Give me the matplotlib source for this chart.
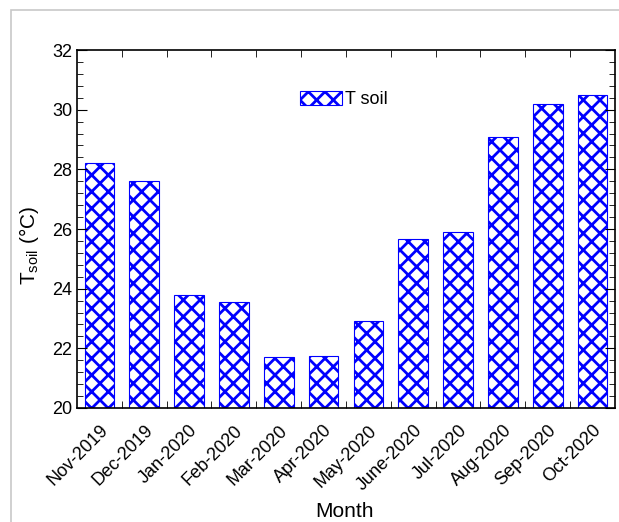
import matplotlib.pyplot as plt
import matplotlib.patches as mpatches
from matplotlib.ticker import MultipleLocator, FixedLocator

plt.rcParams['font.family'] = ['Liberation Sans', 'DejaVu Sans']
plt.rcParams['hatch.linewidth'] = 2.0
plt.rcParams['hatch.color'] = '#0000ff'

months = ['Nov-2019', 'Dec-2019', 'Jan-2020', 'Feb-2020', 'Mar-2020', 'Apr-2020',
          'May-2020', 'June-2020', 'Jul-2020', 'Aug-2020', 'Sep-2020', 'Oct-2020']
t_soil = [28.2, 27.6, 23.8, 23.55, 21.7, 21.75, 22.9, 25.67, 25.9, 29.1, 30.2, 30.5]

fig = plt.figure(figsize=(6.19, 5.22), dpi=100)
ax = fig.add_axes([0.1244, 0.2184, 0.8691, 0.6858])

# grey frame around the plot
fig.patches.append(mpatches.Rectangle((11 / 619, -0.1), 2, 1.1 - 10 / 522,
                                      transform=fig.transFigure, fill=False,
                                      edgecolor='#c8c8c8', linewidth=1.2))

x = range(len(months))
ax.bar(x, t_soil, width=0.66, color='white', edgecolor='#0000ff', hatch='xx',
       linewidth=0.8, label='T soil')

ax.set_xlim(-0.5, len(months) - 0.5)
ax.set_ylim(20, 32)
ax.set_xticks(list(x))
ax.set_xticklabels(months, rotation=45, ha='right', va='top',
                   rotation_mode='anchor', fontsize=13)
ax.xaxis.set_minor_locator(FixedLocator([i + 0.5 for i in range(len(months) - 1)]))
ax.tick_params(axis='x', which='major', length=0, pad=10)
ax.tick_params(axis='x', which='minor', direction='in', length=5, top=True, bottom=True)
ax.yaxis.set_major_locator(MultipleLocator(2))
ax.yaxis.set_minor_locator(MultipleLocator(0.4))
ax.tick_params(axis='y', which='major', direction='in', length=7, labelsize=13,
               left=True, right=True)
ax.tick_params(axis='y', which='minor', direction='in', length=4, left=True, right=True)
for s in ax.spines.values():
    s.set_linewidth(1.2)

ax.set_xlabel('Month', fontsize=15)
ax.xaxis.set_label_coords(0.497, -0.262)
ax.set_ylabel('T$_{\\mathregular{soil}}$ (°C)', fontsize=15)
ax.yaxis.set_label_coords(-0.067, 0.455)

ax.legend(loc='upper left', bbox_to_anchor=(0.385, 0.93), frameon=False, fontsize=13,
          handlelength=2.3, handleheight=0.8, handletextpad=0.15)

fig.savefig('out.png', dpi=100)
